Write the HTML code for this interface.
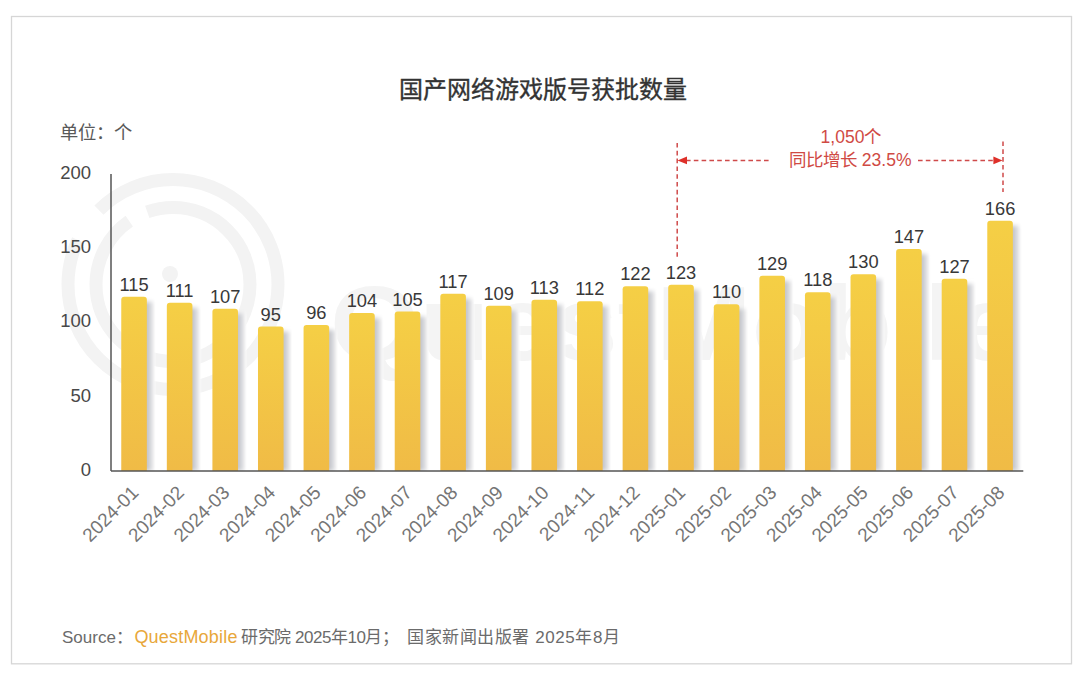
<!DOCTYPE html>
<html lang="zh-CN"><head><meta charset="utf-8"><style>
html,body{margin:0;padding:0;background:#fff;}
body{width:1080px;height:679px;overflow:hidden;font-family:"Liberation Sans",sans-serif;}
svg{display:block;font-family:"Liberation Sans",sans-serif;}
</style></head><body>
<svg width="1080" height="679" viewBox="0 0 1080 679">
<defs>
<linearGradient id="bg" x1="0" y1="0" x2="0" y2="1">
<stop offset="0" stop-color="#f5cf45"/><stop offset="1" stop-color="#f0bb46"/>
</linearGradient>
<filter id="blur" x="-20%" y="-10%" width="140%" height="120%"><feGaussianBlur stdDeviation="0.4 2"/></filter>
<linearGradient id="sg" x1="0" y1="0" x2="1" y2="0">
<stop offset="0" stop-color="#c4c5cb"/><stop offset="0.2" stop-color="#c9cacf"/><stop offset="0.4" stop-color="#d5d7db"/><stop offset="0.58" stop-color="#e4e4e6"/><stop offset="0.75" stop-color="#f2f2f3"/><stop offset="1" stop-color="#ffffff" stop-opacity="0"/>
</linearGradient>
<clipPath id="plotclip"><rect x="100" y="150" width="940" height="321"/></clipPath>
</defs>
<rect x="0" y="0" width="1080" height="679" fill="#fff"/>
<rect x="11.5" y="16.5" width="1060" height="647.3" fill="#fff" stroke="#d6d6d6" stroke-width="1.3"/>
<!-- watermark -->
<g fill="none" stroke="#f3f3f3" stroke-width="13">
<circle cx="173" cy="284.5" r="105" stroke-dasharray="375.6 36.6 247.4 0"/>
<circle cx="173" cy="284.5" r="77" stroke-dasharray="315.8 20.2 147.8 0"/>
</g>
<circle cx="170" cy="274" r="8" fill="#f3f3f3"/>
<text x="330" y="360" font-size="105" font-weight="bold" fill="#f4f4f4" textLength="690" lengthAdjust="spacingAndGlyphs">QuestMobile</text>
<!-- title -->
<text x="543" y="97.5" text-anchor="middle" font-size="24" fill="#333" stroke="#333" stroke-width="0.35">国产网络游戏版号获批数量</text>
<text x="60" y="138.5" font-size="18.3" fill="#595959">单位：个</text>
<g font-size="18.5" fill="#484848"><text x="91" y="476.00" text-anchor="end">0</text>
<text x="91" y="401.62" text-anchor="end">50</text>
<text x="91" y="327.25" text-anchor="end">100</text>
<text x="91" y="252.88" text-anchor="end">150</text>
<text x="91" y="178.50" text-anchor="end">200</text></g>
<g clip-path="url(#plotclip)"><rect x="145.85" y="301.71" width="10.5" height="169.29" fill="url(#sg)" filter="url(#blur)"/>
<rect x="191.43" y="307.67" width="10.5" height="163.33" fill="url(#sg)" filter="url(#blur)"/>
<rect x="237.01" y="313.64" width="10.5" height="157.36" fill="url(#sg)" filter="url(#blur)"/>
<rect x="282.59" y="331.52" width="10.5" height="139.48" fill="url(#sg)" filter="url(#blur)"/>
<rect x="328.17" y="330.03" width="10.5" height="140.97" fill="url(#sg)" filter="url(#blur)"/>
<rect x="373.75" y="318.11" width="10.5" height="152.89" fill="url(#sg)" filter="url(#blur)"/>
<rect x="419.33" y="316.62" width="10.5" height="154.38" fill="url(#sg)" filter="url(#blur)"/>
<rect x="464.91" y="298.73" width="10.5" height="172.27" fill="url(#sg)" filter="url(#blur)"/>
<rect x="510.49" y="310.65" width="10.5" height="160.35" fill="url(#sg)" filter="url(#blur)"/>
<rect x="556.07" y="304.69" width="10.5" height="166.31" fill="url(#sg)" filter="url(#blur)"/>
<rect x="601.65" y="306.18" width="10.5" height="164.82" fill="url(#sg)" filter="url(#blur)"/>
<rect x="647.23" y="291.28" width="10.5" height="179.72" fill="url(#sg)" filter="url(#blur)"/>
<rect x="692.81" y="289.79" width="10.5" height="181.21" fill="url(#sg)" filter="url(#blur)"/>
<rect x="738.39" y="309.16" width="10.5" height="161.84" fill="url(#sg)" filter="url(#blur)"/>
<rect x="783.97" y="280.84" width="10.5" height="190.16" fill="url(#sg)" filter="url(#blur)"/>
<rect x="829.55" y="297.24" width="10.5" height="173.76" fill="url(#sg)" filter="url(#blur)"/>
<rect x="875.13" y="279.35" width="10.5" height="191.65" fill="url(#sg)" filter="url(#blur)"/>
<rect x="920.71" y="254.01" width="10.5" height="216.99" fill="url(#sg)" filter="url(#blur)"/>
<rect x="966.29" y="283.82" width="10.5" height="187.18" fill="url(#sg)" filter="url(#blur)"/>
<rect x="1011.87" y="225.69" width="10.5" height="245.31" fill="url(#sg)" filter="url(#blur)"/></g>
<g><path d="M121.25,471.0 V299.71 Q121.25,296.71 124.25,296.71 H143.85 Q146.85,296.71 146.85,299.71 V471.0 Z" fill="url(#bg)"/>
<path d="M166.83,471.0 V305.67 Q166.83,302.67 169.83,302.67 H189.43 Q192.43,302.67 192.43,305.67 V471.0 Z" fill="url(#bg)"/>
<path d="M212.41,471.0 V311.64 Q212.41,308.64 215.41,308.64 H235.01 Q238.01,308.64 238.01,311.64 V471.0 Z" fill="url(#bg)"/>
<path d="M257.99,471.0 V329.52 Q257.99,326.52 260.99,326.52 H280.59 Q283.59,326.52 283.59,329.52 V471.0 Z" fill="url(#bg)"/>
<path d="M303.57,471.0 V328.03 Q303.57,325.03 306.57,325.03 H326.17 Q329.17,325.03 329.17,328.03 V471.0 Z" fill="url(#bg)"/>
<path d="M349.15,471.0 V316.11 Q349.15,313.11 352.15,313.11 H371.75 Q374.75,313.11 374.75,316.11 V471.0 Z" fill="url(#bg)"/>
<path d="M394.73,471.0 V314.62 Q394.73,311.62 397.73,311.62 H417.33 Q420.33,311.62 420.33,314.62 V471.0 Z" fill="url(#bg)"/>
<path d="M440.31,471.0 V296.73 Q440.31,293.73 443.31,293.73 H462.91 Q465.91,293.73 465.91,296.73 V471.0 Z" fill="url(#bg)"/>
<path d="M485.89,471.0 V308.65 Q485.89,305.65 488.89,305.65 H508.49 Q511.49,305.65 511.49,308.65 V471.0 Z" fill="url(#bg)"/>
<path d="M531.47,471.0 V302.69 Q531.47,299.69 534.47,299.69 H554.07 Q557.07,299.69 557.07,302.69 V471.0 Z" fill="url(#bg)"/>
<path d="M577.05,471.0 V304.18 Q577.05,301.18 580.05,301.18 H599.65 Q602.65,301.18 602.65,304.18 V471.0 Z" fill="url(#bg)"/>
<path d="M622.63,471.0 V289.28 Q622.63,286.28 625.63,286.28 H645.23 Q648.23,286.28 648.23,289.28 V471.0 Z" fill="url(#bg)"/>
<path d="M668.21,471.0 V287.79 Q668.21,284.79 671.21,284.79 H690.81 Q693.81,284.79 693.81,287.79 V471.0 Z" fill="url(#bg)"/>
<path d="M713.79,471.0 V307.16 Q713.79,304.16 716.79,304.16 H736.39 Q739.39,304.16 739.39,307.16 V471.0 Z" fill="url(#bg)"/>
<path d="M759.37,471.0 V278.84 Q759.37,275.84 762.37,275.84 H781.97 Q784.97,275.84 784.97,278.84 V471.0 Z" fill="url(#bg)"/>
<path d="M804.95,471.0 V295.24 Q804.95,292.24 807.95,292.24 H827.55 Q830.55,292.24 830.55,295.24 V471.0 Z" fill="url(#bg)"/>
<path d="M850.53,471.0 V277.35 Q850.53,274.35 853.53,274.35 H873.13 Q876.13,274.35 876.13,277.35 V471.0 Z" fill="url(#bg)"/>
<path d="M896.11,471.0 V252.01 Q896.11,249.01 899.11,249.01 H918.71 Q921.71,249.01 921.71,252.01 V471.0 Z" fill="url(#bg)"/>
<path d="M941.69,471.0 V281.82 Q941.69,278.82 944.69,278.82 H964.29 Q967.29,278.82 967.29,281.82 V471.0 Z" fill="url(#bg)"/>
<path d="M987.27,471.0 V223.69 Q987.27,220.69 990.27,220.69 H1009.87 Q1012.87,220.69 1012.87,223.69 V471.0 Z" fill="url(#bg)"/></g>
<line x1="111" y1="174" x2="111" y2="471" stroke="#555" stroke-width="1.5"/>
<line x1="111" y1="471" x2="1023.3" y2="471" stroke="#555" stroke-width="1.5"/>
<g font-size="18.3" fill="#383838"><text x="134.05" y="290.71" text-anchor="middle">115</text>
<text x="179.63" y="296.67" text-anchor="middle">111</text>
<text x="225.21" y="302.64" text-anchor="middle">107</text>
<text x="270.79" y="320.52" text-anchor="middle">95</text>
<text x="316.37" y="319.03" text-anchor="middle">96</text>
<text x="361.95" y="307.11" text-anchor="middle">104</text>
<text x="407.53" y="305.62" text-anchor="middle">105</text>
<text x="453.11" y="287.73" text-anchor="middle">117</text>
<text x="498.69" y="299.65" text-anchor="middle">109</text>
<text x="544.27" y="293.69" text-anchor="middle">113</text>
<text x="589.85" y="295.18" text-anchor="middle">112</text>
<text x="635.43" y="280.28" text-anchor="middle">122</text>
<text x="681.01" y="278.79" text-anchor="middle">123</text>
<text x="726.59" y="298.16" text-anchor="middle">110</text>
<text x="772.17" y="269.84" text-anchor="middle">129</text>
<text x="817.75" y="286.24" text-anchor="middle">118</text>
<text x="863.33" y="268.35" text-anchor="middle">130</text>
<text x="908.91" y="243.01" text-anchor="middle">147</text>
<text x="954.49" y="272.82" text-anchor="middle">127</text>
<text x="1000.07" y="214.69" text-anchor="middle">166</text></g>
<g font-size="19" fill="#757575"><text x="139.65" y="493.70" text-anchor="end" transform="rotate(-45 139.65 493.70)">2024-01</text>
<text x="185.23" y="493.70" text-anchor="end" transform="rotate(-45 185.23 493.70)">2024-02</text>
<text x="230.81" y="493.70" text-anchor="end" transform="rotate(-45 230.81 493.70)">2024-03</text>
<text x="276.39" y="493.70" text-anchor="end" transform="rotate(-45 276.39 493.70)">2024-04</text>
<text x="321.97" y="493.70" text-anchor="end" transform="rotate(-45 321.97 493.70)">2024-05</text>
<text x="367.55" y="493.70" text-anchor="end" transform="rotate(-45 367.55 493.70)">2024-06</text>
<text x="413.13" y="493.70" text-anchor="end" transform="rotate(-45 413.13 493.70)">2024-07</text>
<text x="458.71" y="493.70" text-anchor="end" transform="rotate(-45 458.71 493.70)">2024-08</text>
<text x="504.29" y="493.70" text-anchor="end" transform="rotate(-45 504.29 493.70)">2024-09</text>
<text x="549.87" y="493.70" text-anchor="end" transform="rotate(-45 549.87 493.70)">2024-10</text>
<text x="595.45" y="493.70" text-anchor="end" transform="rotate(-45 595.45 493.70)">2024-11</text>
<text x="641.03" y="493.70" text-anchor="end" transform="rotate(-45 641.03 493.70)">2024-12</text>
<text x="686.61" y="493.70" text-anchor="end" transform="rotate(-45 686.61 493.70)">2025-01</text>
<text x="732.19" y="493.70" text-anchor="end" transform="rotate(-45 732.19 493.70)">2025-02</text>
<text x="777.77" y="493.70" text-anchor="end" transform="rotate(-45 777.77 493.70)">2025-03</text>
<text x="823.35" y="493.70" text-anchor="end" transform="rotate(-45 823.35 493.70)">2025-04</text>
<text x="868.93" y="493.70" text-anchor="end" transform="rotate(-45 868.93 493.70)">2025-05</text>
<text x="914.51" y="493.70" text-anchor="end" transform="rotate(-45 914.51 493.70)">2025-06</text>
<text x="960.09" y="493.70" text-anchor="end" transform="rotate(-45 960.09 493.70)">2025-07</text>
<text x="1005.67" y="493.70" text-anchor="end" transform="rotate(-45 1005.67 493.70)">2025-08</text></g>
<!-- annotation -->
<g stroke="#cf4a4a" stroke-width="1.5" stroke-dasharray="4.6 3.2" fill="none">
<line x1="677.2" y1="143" x2="677.2" y2="258"/>
<line x1="1003" y1="141.5" x2="1003" y2="192"/>
<line x1="686" y1="160.4" x2="771" y2="160.4"/>
<line x1="918" y1="160.4" x2="994" y2="160.4"/>
</g>
<path d="M677.5,160.4 L687,156.6 L687,164.2 Z" fill="#de3029"/>
<path d="M1002.5,160.4 L993.4,156.6 L993.4,164.2 Z" fill="#de3029"/>
<text x="851" y="142.8" text-anchor="middle" font-size="17.5" fill="#d04a44">1,050个</text>
<text x="850.2" y="165.6" text-anchor="middle" font-size="17.5" fill="#d04a44">同比增长 23.5%</text>
<!-- source -->
<g font-size="17" fill="#6b6b6b">
<text x="62" y="642.8">Source：</text>
<text x="134.4" y="642.8" font-size="18" fill="#e8a73a" textLength="103" lengthAdjust="spacing">QuestMobile</text>
<text x="241" y="642.8" textLength="158" lengthAdjust="spacing">研究院 2025年10月；</text>
<text x="407" y="642.8" textLength="213" lengthAdjust="spacing">国家新闻出版署 2025年8月</text>
</g>
</svg>
</body></html>
